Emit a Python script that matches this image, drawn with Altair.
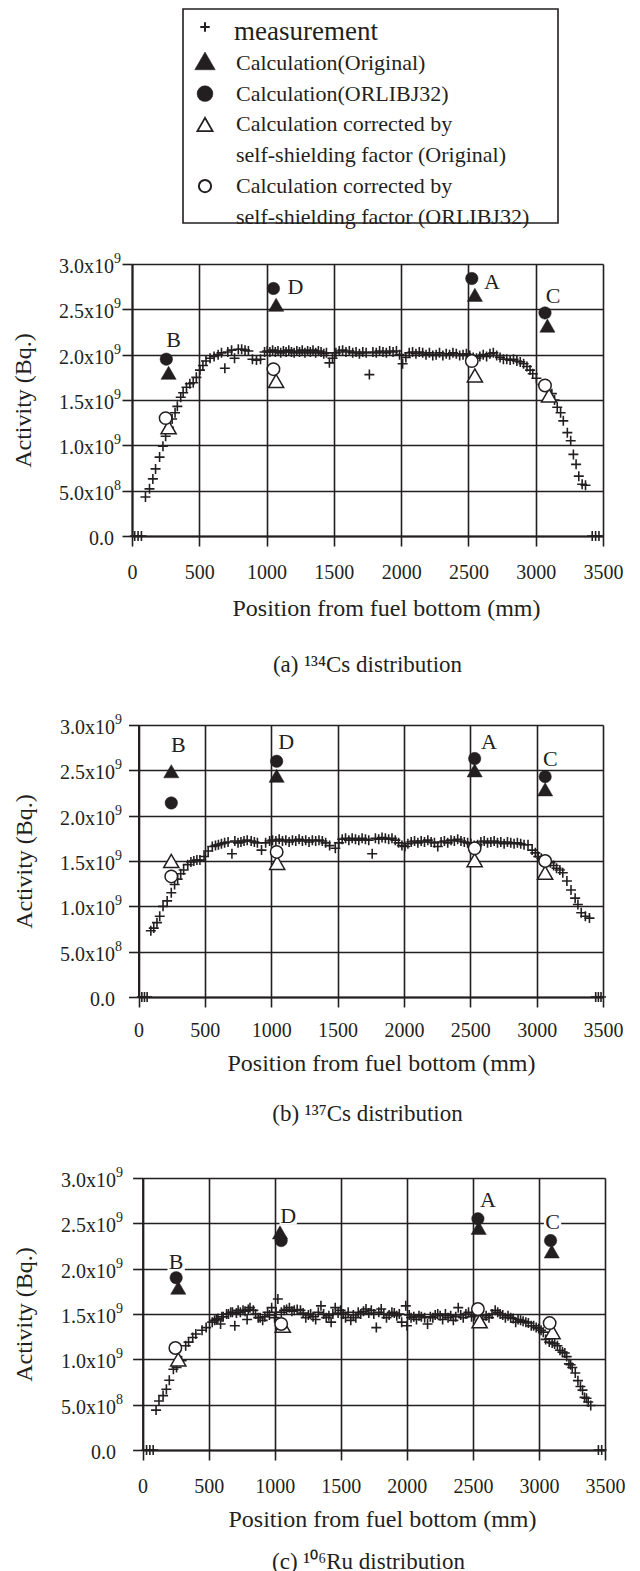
import altair as alt
import pandas as pd

FONT = "Liberation Serif"
INK = "#231f20"
PLUS = "M-1,0L1,0M0,-1L0,1"
NBSP = "\u00a0"

# ---------------- shared axes / text ----------------
x_ticks = [0, 500, 1000, 1500, 2000, 2500, 3000, 3500]
y_ticks = [0.0, 0.5, 1.0, 1.5, 2.0, 2.5, 3.0]
y_tick_base = ["0.0", "5.0x10", "1.0x10", "1.5x10", "2.0x10", "2.5x10", "3.0x10"]
y_tick_exp = ["", "8", "9", "9", "9", "9", "9"]
x_title = "Position from fuel bottom (mm)"
y_title = "Activity (Bq.)"
point_names = ["B", "D", "A", "C"]

legend_lines = [
    "measurement",
    "Calculation(Original)",
    "Calculation(ORLIBJ32)",
    "Calculation corrected by",
    NBSP + "self-shielding factor (Original)",
    "Calculation corrected by",
    NBSP + "self-shielding factor (ORLIBJ32)",
]
legend_symbol_rows = {"meas": 0, "orig": 1, "orlib": 2, "corr_orig": 3, "corr_orlib": 5}

captions = ["(a) \u00b9\u00b3\u2074Cs distribution",
            "(b) \u00b9\u00b3\u2077Cs distribution",
            "(c) \u00b9\u2070\u2076Ru distribution"]

# ---------------- (a) 134Cs  (activity in 1e9 Bq) ----------------
a_meas = [
    (20, 0.0), (45, 0.0), (70, 0.0),
    (100, 0.43), (130, 0.52), (155, 0.63), (175, 0.74), (205, 0.87), (230, 0.99),
    (250, 1.10), (275, 1.20), (298, 1.29), (320, 1.36), (337, 1.43), (362, 1.53),
    (380, 1.58), (405, 1.64), (430, 1.68), (455, 1.69), (478, 1.75), (505, 1.83),
    (527, 1.88), (550, 1.93), (580, 1.96), (610, 1.98), (640, 2.00), (665, 2.02),
    (690, 1.85), (712, 2.03), (740, 2.05), (762, 1.96), (790, 2.06), (815, 2.06),
    (840, 2.05), (865, 2.04), (895, 1.95), (925, 1.94), (955, 1.95),
    (985, 2.03), (1005, 2.04), (1025, 2.03), (1045, 2.05), (1065, 2.03), (1085, 2.04),
    (1105, 2.02), (1125, 2.04), (1145, 2.03), (1165, 2.05), (1185, 2.03), (1205, 2.02),
    (1225, 2.04), (1245, 2.03), (1265, 2.05), (1285, 2.02), (1305, 2.04), (1325, 2.03),
    (1345, 2.05), (1365, 2.02), (1385, 2.04), (1405, 2.03), (1425, 2.01), (1445, 2.02),
    (1467, 1.91), (1490, 1.96),
    (1515, 2.02), (1540, 2.04), (1565, 2.05), (1590, 2.03), (1615, 2.04), (1640, 2.02),
    (1665, 2.03), (1690, 2.01), (1715, 2.03), (1740, 2.02), (1764, 1.78), (1790, 2.03),
    (1815, 2.02), (1840, 2.04), (1865, 2.03), (1890, 2.02), (1915, 2.04), (1940, 2.03),
    (1965, 2.04), (1988, 2.00), (2011, 1.90), (2035, 1.97),
    (2060, 2.02), (2085, 2.03), (2110, 2.01), (2135, 2.03), (2160, 2.02), (2185, 2.00),
    (2210, 2.02), (2235, 1.99), (2260, 2.00), (2285, 2.02), (2310, 1.99), (2335, 2.01),
    (2360, 2.00), (2385, 2.02), (2410, 2.01), (2435, 1.99), (2460, 2.00), (2485, 2.01),
    (2510, 1.99), (2535, 1.97), (2560, 1.96), (2585, 1.98), (2610, 2.00), (2635, 1.98),
    (2660, 2.01), (2685, 2.02), (2710, 1.99), (2735, 1.97), (2760, 1.95), (2785, 1.95),
    (2810, 1.94), (2835, 1.95), (2860, 1.93), (2885, 1.92), (2910, 1.90), (2935, 1.87),
    (2958, 1.83), (2978, 1.79), (3005, 1.74), (3050, 1.67), (3085, 1.60), (3120, 1.57),
    (3140, 1.50), (3160, 1.42), (3185, 1.36), (3205, 1.27), (3235, 1.14), (3260, 1.05),
    (3280, 0.90), (3300, 0.79), (3320, 0.66), (3345, 0.57), (3370, 0.56),
    (3420, 0.0), (3445, 0.0), (3470, 0.0),
]
a_orig_x = [272, 1071, 2548, 3087]
a_orig_y = [1.80, 2.55, 2.66, 2.32]
a_orlib_x = [255, 1051, 2525, 3069]
a_orlib_y = [1.95, 2.73, 2.84, 2.46]
a_corr_orig_x = [272, 1071, 2548, 3099]
a_corr_orig_y = [1.20, 1.71, 1.77, 1.55]
a_corr_orlib_x = [250, 1051, 2525, 3069]
a_corr_orlib_y = [1.30, 1.84, 1.93, 1.66]
a_label_x = [309, 1214, 2674, 3129]
a_label_y = [2.16, 2.75, 2.80, 2.65]

# ---------------- (b) 137Cs ----------------
b_meas = [
    (25, 0.0), (45, 0.0), (65, 0.0),
    (93, 0.73), (115, 0.76), (139, 0.82), (160, 0.89), (185, 1.00), (216, 1.06),
    (247, 1.15), (272, 1.24), (295, 1.30), (318, 1.36), (340, 1.40), (371, 1.46),
    (395, 1.49), (417, 1.50), (440, 1.51), (463, 1.51), (494, 1.55), (525, 1.61),
    (556, 1.66), (580, 1.67), (602, 1.68), (625, 1.69), (649, 1.70), (675, 1.71),
    (704, 1.58), (726, 1.72), (750, 1.70), (772, 1.71), (795, 1.72), (819, 1.73),
    (849, 1.72), (873, 1.71), (896, 1.70), (927, 1.62), (958, 1.70), (988, 1.72),
    (1010, 1.73), (1035, 1.72), (1060, 1.74), (1085, 1.72), (1110, 1.73), (1135, 1.71),
    (1160, 1.73), (1185, 1.72), (1210, 1.74), (1235, 1.72), (1260, 1.73), (1285, 1.71),
    (1310, 1.73), (1335, 1.72), (1360, 1.73), (1385, 1.72), (1410, 1.70), (1440, 1.67),
    (1483, 1.64), (1510, 1.70), (1535, 1.74), (1560, 1.75), (1585, 1.73), (1610, 1.75),
    (1635, 1.74), (1660, 1.73), (1685, 1.75), (1710, 1.74), (1735, 1.73), (1761, 1.58),
    (1785, 1.75), (1810, 1.74), (1835, 1.76), (1860, 1.75), (1885, 1.74), (1910, 1.75),
    (1935, 1.73), (1960, 1.70), (1985, 1.67), (2008, 1.66), (2030, 1.69), (2055, 1.71),
    (2080, 1.72), (2105, 1.70), (2130, 1.72), (2155, 1.71), (2180, 1.73), (2205, 1.71),
    (2230, 1.70), (2255, 1.66), (2280, 1.71), (2305, 1.72), (2330, 1.70), (2355, 1.73),
    (2380, 1.72), (2405, 1.74), (2430, 1.72), (2455, 1.71), (2480, 1.70), (2505, 1.69),
    (2530, 1.67), (2555, 1.68), (2580, 1.71), (2605, 1.72), (2630, 1.70), (2655, 1.71),
    (2680, 1.72), (2705, 1.70), (2730, 1.71), (2755, 1.69), (2780, 1.71), (2805, 1.70),
    (2830, 1.69), (2855, 1.70), (2880, 1.69), (2905, 1.68), (2935, 1.68), (2966, 1.62),
    (2990, 1.59), (3012, 1.55), (3035, 1.53), (3058, 1.51), (3080, 1.50), (3104, 1.48),
    (3128, 1.45), (3150, 1.42), (3175, 1.40), (3197, 1.37), (3228, 1.28), (3259, 1.18),
    (3290, 1.09), (3311, 1.02), (3336, 0.93), (3367, 0.89), (3398, 0.87),
    (3445, 0.0), (3465, 0.0), (3485, 0.0),
]
b_orig_x = [247, 1041, 2533, 3064]
b_orig_y = [2.49, 2.44, 2.50, 2.29]
b_orlib_x = [247, 1041, 2533, 3064]
b_orlib_y = [2.14, 2.60, 2.63, 2.43]
b_corr_orig_x = [247, 1045, 2533, 3064]
b_corr_orig_y = [1.50, 1.48, 1.51, 1.37]
b_corr_orlib_x = [247, 1041, 2533, 3064]
b_corr_orlib_y = [1.33, 1.60, 1.64, 1.50]
b_label_x = [300, 1112, 2641, 3104]
b_label_y = [2.78, 2.81, 2.81, 2.63]

# ---------------- (c) 106Ru ----------------
c_meas = [
    (30, 0.0), (55, 0.0), (80, 0.0),
    (102, 0.44), (124, 0.54), (155, 0.60), (180, 0.67), (202, 0.77), (233, 0.89),
    (257, 0.91), (295, 0.985), (326, 1.15), (348, 1.19), (379, 1.24), (403, 1.28),
    (450, 1.32), (481, 1.35), (527, 1.41), (545, 1.43), (559, 1.44), (570, 1.45),
    (590, 1.39), (600, 1.47), (610, 1.47), (636, 1.50), (650, 1.50), (667, 1.52),
    (680, 1.52), (698, 1.37), (710, 1.51), (723, 1.54), (740, 1.52), (760, 1.54),
    (775, 1.53), (791, 1.44), (800, 1.55), (813, 1.57), (838, 1.54), (855, 1.50),
    (875, 1.46), (890, 1.46), (909, 1.43), (925, 1.47), (946, 1.52), (960, 1.49),
    (977, 1.57), (999, 1.46), (1010, 1.52), (1024, 1.665), (1050, 1.52), (1071, 1.54),
    (1090, 1.55), (1111, 1.57), (1130, 1.53), (1148, 1.54), (1170, 1.55), (1195, 1.54),
    (1215, 1.51), (1235, 1.46), (1255, 1.49), (1272, 1.50), (1290, 1.47), (1310, 1.44),
    (1330, 1.52), (1350, 1.59), (1370, 1.50), (1390, 1.46), (1410, 1.48), (1427, 1.41),
    (1440, 1.50), (1458, 1.57), (1480, 1.51), (1499, 1.54), (1518, 1.50), (1536, 1.46),
    (1556, 1.52), (1576, 1.43), (1595, 1.49), (1614, 1.46), (1632, 1.52), (1651, 1.50),
    (1672, 1.53), (1691, 1.555), (1712, 1.51), (1731, 1.54), (1750, 1.50), (1769, 1.35),
    (1788, 1.52), (1806, 1.555), (1826, 1.50), (1846, 1.46), (1866, 1.49), (1887, 1.52),
    (1905, 1.51), (1924, 1.48), (1943, 1.50), (1961, 1.41), (1992, 1.59), (2001, 1.37),
    (2018, 1.49), (2032, 1.46), (2053, 1.47), (2073, 1.44), (2092, 1.48), (2110, 1.47),
    (2135, 1.46), (2157, 1.39), (2178, 1.47), (2197, 1.46), (2215, 1.49), (2234, 1.50),
    (2252, 1.48), (2271, 1.44), (2292, 1.50), (2312, 1.46), (2332, 1.48), (2352, 1.43),
    (2370, 1.47), (2389, 1.57), (2408, 1.49), (2427, 1.46), (2447, 1.50), (2467, 1.52),
    (2490, 1.47), (2513, 1.48), (2545, 1.49), (2576, 1.44), (2600, 1.48), (2622, 1.46),
    (2645, 1.50), (2669, 1.54), (2688, 1.52), (2706, 1.50), (2726, 1.49), (2746, 1.46),
    (2766, 1.48), (2786, 1.46), (2805, 1.45), (2824, 1.41), (2842, 1.44), (2861, 1.43),
    (2880, 1.42), (2901, 1.41), (2920, 1.40), (2942, 1.37), (2960, 1.37), (2979, 1.35),
    (2998, 1.34), (3016, 1.32), (3033, 1.30), (3051, 1.22), (3078, 1.19), (3100, 1.18),
    (3119, 1.17), (3140, 1.15), (3159, 1.10), (3178, 1.08), (3196, 1.07), (3210, 1.03),
    (3227, 0.95), (3240, 0.94), (3252, 0.91), (3275, 0.85), (3295, 0.765), (3314, 0.70),
    (3330, 0.66), (3345, 0.58), (3360, 0.57), (3373, 0.53), (3392, 0.49),
    (3450, 0.0), (3475, 0.0),
]
c_orig_x = [270, 1040, 2544, 3097]
c_orig_y = [1.79, 2.40, 2.45, 2.19]
c_orlib_x = [254, 1049, 2538, 3088]
c_orlib_y = [1.90, 2.31, 2.55, 2.31]
c_corr_orig_x = [270, 1061, 2551, 3103]
c_corr_orig_y = [1.00, 1.37, 1.42, 1.30]
c_corr_orlib_x = [248, 1049, 2538, 3081]
c_corr_orlib_y = [1.125, 1.39, 1.555, 1.40]
c_label_x = [254, 1102, 2613, 3103]
c_label_y = [2.07, 2.58, 2.76, 2.51]

# ---------------- symbol styles ----------------
PLOT_STYLE = {
    "meas": dict(shape=PLUS, size=100, filled=False, stroke=INK, strokeWidth=1.6),
    "corr_orig": dict(shape="triangle-up", size=230, filled=True, fill="white", stroke=INK, strokeWidth=1.5),
    "corr_orlib": dict(shape="circle", size=155, filled=True, fill="white", stroke=INK, strokeWidth=1.5),
    "orig": dict(shape="triangle-up", size=230, filled=True, fill=INK, stroke=INK, strokeWidth=0.5),
    "orlib": dict(shape="circle", size=155, filled=True, fill=INK, stroke=INK, strokeWidth=0.5),
}
LEG_STYLE = {
    "meas": dict(shape=PLUS, size=90, filled=False, stroke=INK, strokeWidth=2, yOffset=-5),
    "orig": dict(shape="triangle-up", size=420, filled=True, fill=INK, stroke=INK, strokeWidth=0.5, yOffset=-2),
    "orlib": dict(shape="circle", size=250, filled=True, fill=INK, stroke=INK, strokeWidth=0.5),
    "corr_orig": dict(shape="triangle-up", size=230, filled=True, fill="white", stroke=INK, strokeWidth=1.8),
    "corr_orlib": dict(shape="circle", size=150, filled=True, fill="white", stroke=INK, strokeWidth=2),
}


def panel(meas, calc, lab_x, lab_y, caption, w, h, x0, y_tp, lab_r, x_lp, t_x, t_y, cap_off, ext):
    # x0: left inset of the frame inside the (column-aligned) view
    x_enc = alt.X("x:Q", scale=alt.Scale(domain=[0, 3500], range=[x0, w], nice=False, zero=False),
                  axis=alt.Axis(values=x_ticks, format="d", title=x_title, labelPadding=x_lp,
                                labelFont=FONT, titleFont=FONT,
                                titleX=t_x, titleY=t_y, titleBaseline="middle", titleAlign="center"))
    y_kw = dict(values=y_ticks, labels=False, title=y_title, titleFont=FONT,
                titlePadding=y_tp, minExtent=0)
    if x0:
        y_kw["offset"] = -x0
    y_enc = alt.Y("y:Q", scale=alt.Scale(domain=[0, 3], nice=False), axis=alt.Axis(**y_kw))
    meas_df = pd.DataFrame(meas, columns=["x", "y"])
    lab_df = pd.DataFrame({"x": lab_x, "y": lab_y, "t": point_names})
    ytl_df = pd.DataFrame({"y": y_ticks, "base": y_tick_base, "exp": y_tick_exp})
    layers = [alt.Chart(meas_df).mark_point(opacity=1, **PLOT_STYLE["meas"]).encode(x=x_enc, y=y_enc)]
    layers.append(alt.Chart(lab_df).mark_point(shape="square", size=300, filled=True, fill="white",
                                               strokeWidth=0, opacity=1).encode(x=x_enc, y=y_enc))
    for key in ["corr_orig", "corr_orlib", "orig", "orlib"]:
        xs, ys = calc[key]
        df = pd.DataFrame({"x": xs, "y": ys, "point": point_names})
        layers.append(alt.Chart(df).mark_point(opacity=1, **PLOT_STYLE[key]).encode(x=x_enc, y=y_enc))
    layers.append(alt.Chart(lab_df).mark_text(font=FONT, fontSize=22, color=INK, baseline="middle")
                  .encode(x=x_enc, y=y_enc, text="t:N"))
    # y tick labels "n.nx10" with a raised exponent
    layers.append(alt.Chart(ytl_df).mark_text(align="right", baseline="middle", dy=3, font=FONT,
                                              fontSize=20, color=INK)
                  .encode(x=alt.value(lab_r), y=y_enc, text="base:N"))
    layers.append(alt.Chart(ytl_df).mark_text(align="left", baseline="middle", dy=-5, font=FONT,
                                              fontSize=14, color=INK)
                  .encode(x=alt.value(lab_r), y=y_enc, text="exp:N"))
    tkw = dict(orient="bottom", offset=cap_off, font=FONT, fontSize=23,
               fontWeight="normal", color=INK, anchor="middle")
    if ext:
        tkw.update(subtitle=NBSP, subtitleFont=FONT, subtitleFontSize=8, subtitlePadding=ext,
                   subtitleColor="white")
    return alt.layer(*layers).properties(width=w, height=h, title=alt.TitleParams(caption, **tkw))


pa = panel(a_meas, {"orig": (a_orig_x, a_orig_y), "orlib": (a_orlib_x, a_orlib_y),
                    "corr_orig": (a_corr_orig_x, a_corr_orig_y), "corr_orlib": (a_corr_orlib_x, a_corr_orlib_y)},
           a_label_x, a_label_y, captions[0], 471, 272, 0, 86, -18, 16, 254, 72, 34, 4)
pb = panel(b_meas, {"orig": (b_orig_x, b_orig_y), "orlib": (b_orlib_x, b_orlib_y),
                    "corr_orig": (b_corr_orig_x, b_corr_orig_y), "corr_orlib": (b_corr_orlib_x, b_corr_orlib_y)},
           b_label_x, b_label_y, captions[1], 471, 272, 6.5, 91.5, -17, 13, 249, 66, 28, 8)
pc = panel(c_meas, {"orig": (c_orig_x, c_orig_y), "orlib": (c_orlib_x, c_orlib_y),
                    "corr_orig": (c_corr_orig_x, c_corr_orig_y), "corr_orlib": (c_corr_orlib_x, c_corr_orlib_y)},
           c_label_x, c_label_y, captions[2], 473, 272, 10.6, 95.6, -16, 16, 250, 69, 20, 0)

# ---------------- legend box ----------------
leg_y = alt.Y("row:Q", scale=alt.Scale(domain=[-0.75, 6.2], reverse=True), axis=None)
leg_text_df = pd.DataFrame({"row": list(range(len(legend_lines))), "text": legend_lines})
leg_layers = []
for key, row in legend_symbol_rows.items():
    df = pd.DataFrame({"row": [row]})
    leg_layers.append(alt.Chart(df).mark_point(opacity=1, **LEG_STYLE[key]).encode(x=alt.value(22), y=leg_y))
leg_layers.append(alt.Chart(leg_text_df).transform_filter("datum.row == 0")
                  .mark_text(align="left", baseline="middle", font=FONT, fontSize=27, color=INK)
                  .encode(x=alt.value(51), y=leg_y, text="text:N"))
leg_layers.append(alt.Chart(leg_text_df).transform_filter("datum.row > 0")
                  .mark_text(align="left", baseline="middle", font=FONT, fontSize=22, color=INK)
                  .encode(x=alt.value(53), y=leg_y, text="text:N"))
legend = alt.layer(*leg_layers).properties(
    width=375, height=214, view=alt.ViewBackground(stroke=INK, strokeWidth=1.6))

spacer = (alt.Chart(pd.DataFrame({"v": [0]})).mark_point(opacity=0)
          .encode(x=alt.X("v:Q", axis=None), y=alt.Y("v:Q", axis=None))
          .properties(width=49, height=10))

top = alt.hconcat(spacer, legend, spacing=0)

chart = alt.vconcat(top, pa, pb, pc, spacing=22).properties(
    padding={"left": 2, "top": 0, "right": 0, "bottom": 0}, background="white")

chart = chart.configure_axis(
    grid=True, gridColor=INK, gridWidth=1.6, gridOpacity=1,
    domainColor=INK, domainWidth=2, tickColor=INK, tickWidth=1.6, tickSize=10,
    labelFont=FONT, labelFontSize=20, labelColor=INK, labelFlush=False, labelOverlap=False,
    titleFont=FONT, titleFontSize=24, titleFontWeight="normal", titleColor=INK,
).configure_view(stroke="transparent")

chart.save("out.html", embed_options={"renderer": "svg", "actions": False})
